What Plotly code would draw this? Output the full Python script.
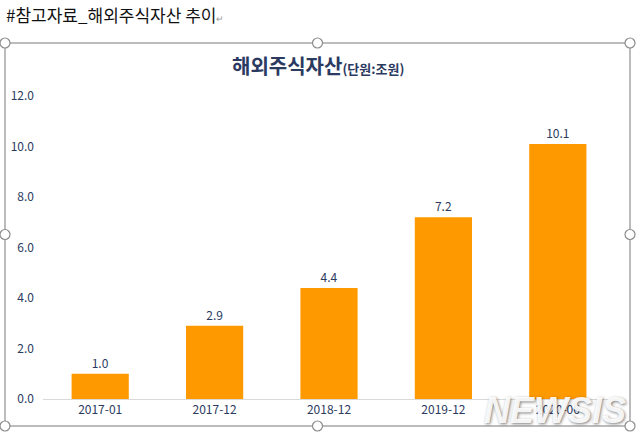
import plotly.graph_objects as go

categories = ["2017-01", "2017-12", "2018-12", "2019-12", "2020-06"]
values = [1.0, 2.9, 4.4, 7.2, 10.1]
ytick_vals = [0, 2, 4, 6, 8, 10, 12]
ytick_text = ["0.0", "2.0", "4.0", "6.0", "8.0", "10.0", "12.0"]

FONT = "Noto Sans CJK KR"
NAVY = "#2b3a60"
ORANGE = "#ff9900"

# plot area in pixels: left 43, right 615, top 96, bottom 399
L, R, T, B = 43, 615, 96, 399
W, H = 640, 436

def px(x):
    return (x - L) / (R - L)

def py(y):
    return (B - y) / (B - T)

fig = go.Figure()
fig.add_trace(go.Bar(
    x=categories, y=values,
    marker=dict(color=ORANGE, line=dict(width=0)),
    text=[f"{v:.1f}" for v in values],
    textposition="outside",
    textfont=dict(family=FONT, size=12, color=NAVY),
    cliponaxis=False,
))

shapes = []
# selection frame
fx0, fx1, fy0, fy1 = 5, 630, 43, 426
shapes.append(dict(type="rect", xref="paper", yref="paper",
                   x0=px(fx0), x1=px(fx1), y0=py(fy1), y1=py(fy0),
                   line=dict(color="#a6a6a6", width=1.5), fillcolor="rgba(0,0,0,0)", layer="below"))
handles = [(fx0, fy0), ((fx0 + fx1) / 2, fy0), (fx1, fy0),
           (fx0, (fy0 + fy1) / 2), (fx1, (fy0 + fy1) / 2),
           (fx0, fy1), ((fx0 + fx1) / 2, fy1), (fx1, fy1)]
for hx, hy in handles:
    shapes.append(dict(type="circle", xref="paper", yref="paper",
                       xsizemode="pixel", ysizemode="pixel",
                       xanchor=px(hx), yanchor=py(hy),
                       x0=-5, x1=5, y0=-5, y1=5,
                       line=dict(color="#8c8c8c", width=1.2), fillcolor="white"))

annotations = [
    dict(text="#참고자료_해외주식자산 추이<span style='font-size:9px;color:#999'>↵</span>",
         xref="paper", yref="paper", x=px(4), y=py(14), xanchor="left", yanchor="middle",
         showarrow=False, font=dict(family=FONT, size=17, color="#111111")),
    dict(text="<b>해외주식자산</b><b><span style='font-size:13px'>(단원:조원)</span></b>",
         xref="paper", yref="paper", x=px(318), y=py(66), xanchor="center", yanchor="middle",
         showarrow=False, font=dict(family=FONT, size=20, color=NAVY)),
    dict(text="<b><i>NEWSIS</i></b>",
         xref="paper", yref="paper", x=px(555), y=py(410), xanchor="center", yanchor="middle",
         showarrow=False,
         font=dict(family="Liberation Sans", size=36, color="rgba(255,255,255,0.92)",
                   shadow="1px 1px 3px rgba(0,0,0,0.55)")),
]

fig.update_layout(
    width=W, height=H,
    margin=dict(l=L, r=W - R, t=T, b=H - B, pad=0),
    paper_bgcolor="white", plot_bgcolor="white",
    bargap=0.5,
    showlegend=False,
    shapes=shapes,
    annotations=annotations,
    font=dict(family=FONT, color=NAVY),
    xaxis=dict(type="category", showline=True, linecolor="#d9d9d9", linewidth=1, ticks="",
               tickfont=dict(family=FONT, size=12, color=NAVY), showgrid=False,
               fixedrange=True),
    yaxis=dict(range=[0, 12], tickvals=ytick_vals, ticktext=ytick_text,
               showgrid=False, zeroline=False, showline=False, ticks="",
               ticklabelstandoff=8,
               tickfont=dict(family=FONT, size=12, color=NAVY), fixedrange=True),
)

fig.write_html("out.html", config={"displayModeBar": False},
               post_script="document.body.style.margin='0';document.body.style.overflow='hidden';")
